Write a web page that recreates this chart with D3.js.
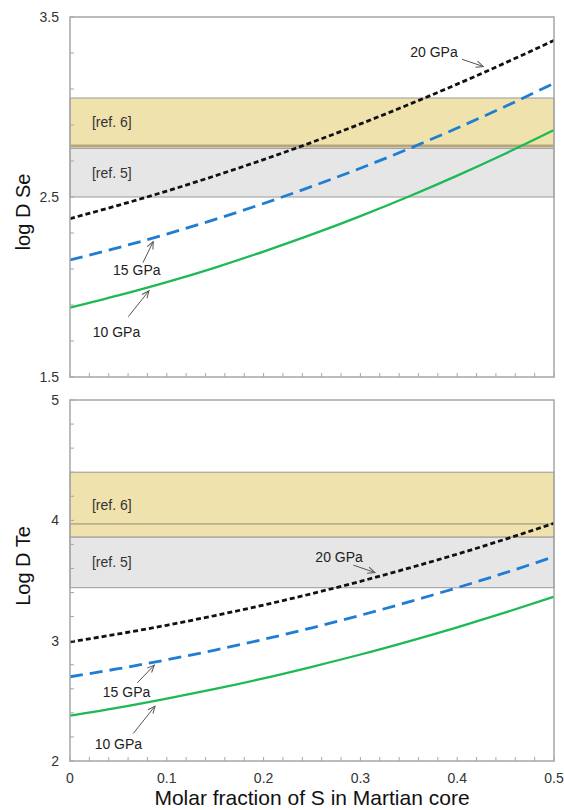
<!DOCTYPE html>
<html>
<head>
<meta charset="utf-8">
<script src="https://cdn.jsdelivr.net/npm/d3@7/dist/d3.min.js"></script>
<style>
  html, body { margin: 0; padding: 0; background: #fff; }
  svg { display: block; font-family: "Liberation Sans", Arial, sans-serif; }
</style>
</head>
<body>
<svg id="chart" width="564" height="810"></svg>
<script>
// ---------- data ----------
const xFrac = [0, 0.05, 0.1, 0.15, 0.2, 0.25, 0.3, 0.35, 0.4, 0.45, 0.5];

const se10 = [1.885, 1.953, 2.027, 2.108, 2.197, 2.292, 2.394, 2.503, 2.619, 2.742, 2.872];
const se15 = [2.150, 2.219, 2.294, 2.376, 2.464, 2.559, 2.660, 2.768, 2.883, 3.004, 3.132];
const se20 = [2.380, 2.454, 2.533, 2.618, 2.708, 2.804, 2.906, 3.014, 3.127, 3.246, 3.370];

const te10 = [2.376, 2.443, 2.518, 2.599, 2.687, 2.783, 2.885, 2.995, 3.111, 3.235, 3.365];
const te15 = [2.700, 2.767, 2.841, 2.922, 3.011, 3.107, 3.211, 3.322, 3.440, 3.565, 3.698];
const te20 = [2.990, 3.056, 3.128, 3.209, 3.296, 3.391, 3.493, 3.603, 3.719, 3.844, 3.975];

const seRef6 = [2.78, 3.05];
const seRef5 = [2.50, 2.77];
const teRef6 = [3.86, 4.40];
const teRef6Line = 3.97;
const teRef5 = [3.44, 3.86];

const seTickLabels = [1.5, 2.5, 3.5];
const teTickLabels = [2, 3, 4, 5];
const xTickLabels = [0, 0.1, 0.2, 0.3, 0.4, 0.5];
const seriesNames = ["10 GPa", "15 GPa", "20 GPa"];

// ---------- layout ----------
const svg = d3.select("#chart");
const left = 70, right = 554;
const x = d3.scaleLinear().domain([0, 0.5]).range([left, right]);

const panels = [
  { top: 17, bottom: 377, domain: [1.5, 3.5], labels: seTickLabels, title: "log D Se", titleY: 212,
    series: [se10, se15, se20], ref6: seRef6, ref5: seRef5, ref6Line: null, ref6Edge: true,
    ann: [
      { t: seriesNames[2], tx: 0.376, ty: 3.306, a: [0.405, 3.265, 0.427, 3.225] },
      { t: seriesNames[1], tx: 0.069, ty: 2.094, a: [0.0754, 2.136, 0.086, 2.252] },
      { t: seriesNames[0], tx: 0.048, ty: 1.752, a: [0.0602, 1.835, 0.0816, 1.979] }
    ] },
  { top: 400, bottom: 761, domain: [2, 5], labels: teTickLabels, title: "Log D Te", titleY: 566,
    series: [te10, te15, te20], ref6: teRef6, ref5: teRef5, ref6Line: teRef6Line, ref6Edge: false,
    ann: [
      { t: seriesNames[2], tx: 0.278, ty: 3.695, a: [0.2927, 3.628, 0.315, 3.566] },
      { t: seriesNames[1], tx: 0.0584, ty: 2.575, a: [0.0695, 2.65, 0.0871, 2.797] },
      { t: seriesNames[0], tx: 0.050, ty: 2.14, a: [0.0654, 2.229, 0.0878, 2.456] }
    ] }
];

const styles = [
  { color: "#1db954", width: 2.3, dash: null },
  { color: "#1f7dd2", width: 2.8, dash: "13,7" },
  { color: "#111111", width: 2.8, dash: "5,3" }
];

const defs = svg.append("defs");
defs.append("marker")
  .attr("id", "arrow").attr("viewBox", "0 0 10 10")
  .attr("refX", 9).attr("refY", 5)
  .attr("markerWidth", 9).attr("markerHeight", 9)
  .attr("markerUnits", "userSpaceOnUse")
  .attr("orient", "auto")
  .append("path").attr("d", "M1,1.5 L9,5 L1,8.5")
  .attr("fill", "none").attr("stroke", "#555").attr("stroke-width", 1.1);

const axisColor = "#a6a6a6";

panels.forEach(p => {
  const y = d3.scaleLinear().domain(p.domain).range([p.bottom, p.top]);
  const g = svg.append("g");

  const cid = "clip" + p.top;
  defs.append("clipPath").attr("id", cid).append("rect")
    .attr("x", left).attr("y", p.top).attr("width", right - left).attr("height", p.bottom - p.top);

  // bands
  g.append("rect")
    .attr("x", x(0)).attr("width", x(0.5) - x(0))
    .attr("y", y(p.ref6[1])).attr("height", y(p.ref6[0]) - y(p.ref6[1]))
    .attr("fill", "#efe2ad").attr("stroke", "#9a9a9a").attr("stroke-width", 1);
  g.append("rect")
    .attr("x", x(0)).attr("width", x(0.5) - x(0))
    .attr("y", y(p.ref5[1])).attr("height", y(p.ref5[0]) - y(p.ref5[1]))
    .attr("fill", "#e6e6e6").attr("stroke", "#9a9a9a").attr("stroke-width", 1);
  if (p.ref6Edge) {
    g.append("line")
      .attr("x1", x(0)).attr("x2", x(0.5))
      .attr("y1", y(p.ref6[0]) - 0.5).attr("y2", y(p.ref6[0]) - 0.5)
      .attr("stroke", "#b5a67a").attr("stroke-width", 3);
  }
  if (p.ref6Line !== null) {
    g.append("line")
      .attr("x1", x(0)).attr("x2", x(0.5))
      .attr("y1", y(p.ref6Line)).attr("y2", y(p.ref6Line))
      .attr("stroke", "#8f8a78").attr("stroke-width", 1);
  }
  g.append("text").attr("x", x(0.0227)).attr("y", (y(p.ref6[0]) + y(p.ref6[1])) / 2)
    .attr("dy", "0.35em").attr("font-size", 14).attr("fill", "#333").text("[ref. 6]");
  g.append("text").attr("x", x(0.0227)).attr("y", (y(p.ref5[0]) + y(p.ref5[1])) / 2)
    .attr("dy", "0.35em").attr("font-size", 14).attr("fill", "#333").text("[ref. 5]");

  // curves
  const line = d3.line().x((d, i) => x(xFrac[i])).y(d => y(d)).curve(d3.curveMonotoneX);
  p.series.forEach((s, i) => {
    const st = styles[i];
    const path = g.append("path").datum(s)
      .attr("clip-path", `url(#${cid})`)
      .attr("d", line).attr("fill", "none")
      .attr("stroke", st.color).attr("stroke-width", st.width);
    if (st.dash) path.attr("stroke-dasharray", st.dash);
  });

  // frame
  g.append("rect").attr("x", left).attr("y", p.top)
    .attr("width", right - left).attr("height", p.bottom - p.top)
    .attr("fill", "none").attr("stroke", axisColor).attr("stroke-width", 1.5);

  // y ticks (inside)
  const yTicks = d3.range(p.domain[0], p.domain[1] + 1e-9, 0.2);
  g.selectAll(".yt").data(yTicks).join("line")
    .attr("x1", left).attr("x2", left + 4)
    .attr("y1", d => y(d)).attr("y2", d => y(d))
    .attr("stroke", axisColor).attr("stroke-width", 1);
  g.selectAll(".yl").data(p.labels).join("text")
    .attr("x", left - 11).attr("y", d => y(d)).attr("dy", "0.35em")
    .attr("text-anchor", "end").attr("font-size", 14).attr("fill", "#333")
    .text(d => d3.format("")(d));

  // x ticks (inside)
  const xTicks = d3.range(0, 0.5 + 1e-9, 0.02);
  g.selectAll(".xt").data(xTicks).join("line")
    .attr("x1", d => x(d)).attr("x2", d => x(d))
    .attr("y1", p.bottom).attr("y2", p.bottom - 4)
    .attr("stroke", axisColor).attr("stroke-width", 1);

  // y title
  g.append("text")
    .attr("transform", `translate(30,${p.titleY}) rotate(-90)`)
    .attr("text-anchor", "middle").attr("font-size", 20).attr("fill", "#111")
    .text(p.title);

  // annotations
  p.ann.forEach(a => {
    g.append("text").attr("x", x(a.tx)).attr("y", y(a.ty)).attr("dy", "0.35em")
      .attr("text-anchor", "middle").attr("font-size", 14).attr("fill", "#222").text(a.t);
    g.append("line")
      .attr("x1", x(a.a[0])).attr("y1", y(a.a[1]))
      .attr("x2", x(a.a[2])).attr("y2", y(a.a[3]))
      .attr("stroke", "#555").attr("stroke-width", 1)
      .attr("marker-end", "url(#arrow)");
  });
});

// x tick labels (bottom panel only)
const bottomP = panels[1];
svg.selectAll(".xl").data(xTickLabels).join("text")
  .attr("x", d => x(d)).attr("y", bottomP.bottom + 17).attr("dy", "0.35em")
  .attr("text-anchor", "middle").attr("font-size", 14).attr("fill", "#333")
  .text(d => d3.format("")(d));

svg.append("text").attr("x", 312).attr("y", 805)
  .attr("text-anchor", "middle").attr("font-size", 21).attr("fill", "#111")
  .text("Molar fraction of S in Martian core");
</script>
</body>
</html>
